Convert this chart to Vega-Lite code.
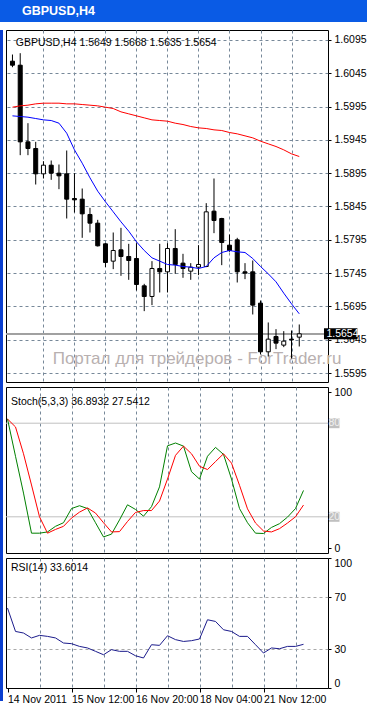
{
  "$schema": "https://vega.github.io/schema/vega-lite/v6.json",
  "padding": 0,
  "background": "white",
  "spacing": 7,
  "datasets": {
    "bars": [
      {"i":0,"o":1.6063,"h":1.6073,"l":1.6054,"c":1.6057,"ma1":1.5994,"ma2":1.5981,"k":82.7,"d":82.7,"rsi":61.5},
      {"i":1,"o":1.6057,"h":1.6075,"l":1.5922,"c":1.5942,"ma1":1.5996,"ma2":1.5980,"k":58.8,"d":77.6,"rsi":43.5},
      {"i":2,"o":1.5942,"h":1.5970,"l":1.5922,"c":1.5932,"ma1":1.5997,"ma2":1.5979,"k":35.2,"d":60.4,"rsi":42.3},
      {"i":3,"o":1.5932,"h":1.5942,"l":1.5878,"c":1.5894,"ma1":1.5999,"ma2":1.5977,"k":9.5,"d":40.4,"rsi":38.5},
      {"i":4,"o":1.5894,"h":1.5913,"l":1.5887,"c":1.5907,"ma1":1.6000,"ma2":1.5975,"k":9.5,"d":20,"rsi":40.5},
      {"i":5,"o":1.5907,"h":1.5914,"l":1.5885,"c":1.5895,"ma1":1.6000,"ma2":1.5974,"k":10.3,"d":9.5,"rsi":39.7},
      {"i":6,"o":1.5895,"h":1.5908,"l":1.5871,"c":1.5891,"ma1":1.6000,"ma2":1.5970,"k":13.9,"d":11.9,"rsi":38.5},
      {"i":7,"o":1.5894,"h":1.5929,"l":1.5827,"c":1.5856,"ma1":1.5999,"ma2":1.5955,"k":16.2,"d":13.9,"rsi":34.6},
      {"i":8,"o":1.5857,"h":1.5895,"l":1.5836,"c":1.5855,"ma1":1.5999,"ma2":1.5930,"k":25.3,"d":19.2,"rsi":34.1},
      {"i":9,"o":1.5856,"h":1.5872,"l":1.5798,"c":1.5834,"ma1":1.5998,"ma2":1.5910,"k":27.1,"d":23,"rsi":32},
      {"i":10,"o":1.5833,"h":1.5843,"l":1.5806,"c":1.5820,"ma1":1.5997,"ma2":1.5888,"k":25.3,"d":25.7,"rsi":30.8},
      {"i":11,"o":1.5820,"h":1.5825,"l":1.5785,"c":1.5786,"ma1":1.5996,"ma2":1.5868,"k":16.2,"d":22.4,"rsi":28.2},
      {"i":12,"o":1.5789,"h":1.5790,"l":1.5754,"c":1.5761,"ma1":1.5994,"ma2":1.5852,"k":7.1,"d":16.2,"rsi":25.6},
      {"i":13,"o":1.5763,"h":1.5806,"l":1.5751,"c":1.5779,"ma1":1.5992,"ma2":1.5837,"k":8.9,"d":10.3,"rsi":29.5},
      {"i":14,"o":1.5780,"h":1.5813,"l":1.5741,"c":1.5770,"ma1":1.5987,"ma2":1.5822,"k":18,"d":10.5,"rsi":28.2},
      {"i":15,"o":1.5770,"h":1.5789,"l":1.5735,"c":1.5764,"ma1":1.5984,"ma2":1.5808,"k":27.7,"d":17,"rsi":28.2},
      {"i":16,"o":1.5767,"h":1.5790,"l":1.5719,"c":1.5728,"ma1":1.5981,"ma2":1.5792,"k":24.7,"d":22.8,"rsi":24.8},
      {"i":17,"o":1.5726,"h":1.5729,"l":1.5688,"c":1.5710,"ma1":1.5978,"ma2":1.5779,"k":20.4,"d":24,"rsi":23.1},
      {"i":18,"o":1.5710,"h":1.5763,"l":1.5697,"c":1.5752,"ma1":1.5975,"ma2":1.5768,"k":26.5,"d":24,"rsi":33.3},
      {"i":19,"o":1.5752,"h":1.5789,"l":1.5716,"c":1.5747,"ma1":1.5974,"ma2":1.5763,"k":39.2,"d":30.1,"rsi":32.8},
      {"i":20,"o":1.5747,"h":1.5790,"l":1.5716,"c":1.5782,"ma1":1.5973,"ma2":1.5758,"k":65.5,"d":44.2,"rsi":40.2},
      {"i":21,"o":1.5782,"h":1.5811,"l":1.5744,"c":1.5758,"ma1":1.5970,"ma2":1.5757,"k":67.3,"d":59.4,"rsi":37.2},
      {"i":22,"o":1.5760,"h":1.5774,"l":1.5738,"c":1.5752,"ma1":1.5968,"ma2":1.5755,"k":65.3,"d":65.3,"rsi":35.8},
      {"i":23,"o":1.5748,"h":1.5760,"l":1.5735,"c":1.5754,"ma1":1.5965,"ma2":1.5754,"k":48.9,"d":60.4,"rsi":36.4},
      {"i":24,"o":1.5754,"h":1.5787,"l":1.5742,"c":1.5758,"ma1":1.5963,"ma2":1.5752,"k":44.2,"d":52.4,"rsi":37.7},
      {"i":25,"o":1.5755,"h":1.5850,"l":1.5754,"c":1.5837,"ma1":1.5962,"ma2":1.5755,"k":58.8,"d":50.3,"rsi":52.5},
      {"i":26,"o":1.5838,"h":1.5887,"l":1.5805,"c":1.5824,"ma1":1.5960,"ma2":1.5768,"k":64.5,"d":55.4,"rsi":51.2},
      {"i":27,"o":1.5827,"h":1.5828,"l":1.5757,"c":1.5791,"ma1":1.5959,"ma2":1.5776,"k":60,"d":60.4,"rsi":44.8},
      {"i":28,"o":1.5787,"h":1.5803,"l":1.5777,"c":1.5779,"ma1":1.5956,"ma2":1.5779,"k":44.2,"d":54.4,"rsi":43.5},
      {"i":29,"o":1.5795,"h":1.5798,"l":1.5731,"c":1.5747,"ma1":1.5954,"ma2":1.5777,"k":25.3,"d":40.2,"rsi":39.7},
      {"i":30,"o":1.5747,"h":1.5760,"l":1.5736,"c":1.5745,"ma1":1.5951,"ma2":1.5776,"k":16.2,"d":25.1,"rsi":39.7},
      {"i":31,"o":1.5747,"h":1.5764,"l":1.5683,"c":1.5697,"ma1":1.5948,"ma2":1.5767,"k":9.5,"d":16,"rsi":33.3},
      {"i":32,"o":1.5700,"h":1.5704,"l":1.5623,"c":1.5627,"ma1":1.5943,"ma2":1.5755,"k":9.3,"d":10.9,"rsi":26.9},
      {"i":33,"o":1.5627,"h":1.5671,"l":1.5620,"c":1.5646,"ma1":1.5939,"ma2":1.5744,"k":13.2,"d":10.3,"rsi":30.8},
      {"i":34,"o":1.5650,"h":1.5661,"l":1.5631,"c":1.5640,"ma1":1.5935,"ma2":1.5732,"k":15.6,"d":12.4,"rsi":30.2},
      {"i":35,"o":1.5637,"h":1.5658,"l":1.5634,"c":1.5643,"ma1":1.5930,"ma2":1.5715,"k":19.8,"d":16,"rsi":32},
      {"i":36,"o":1.5646,"h":1.5659,"l":1.5617,"c":1.5645,"ma1":1.5924,"ma2":1.5699,"k":25.3,"d":20,"rsi":32},
      {"i":37,"o":1.5649,"h":1.5668,"l":1.5635,"c":1.5654,"ma1":1.5920,"ma2":1.5684,"k":36.89,"d":27.54,"rsi":33.6}
    ]
  },
  "config": {
    "view": {"stroke": "black", "strokeWidth": 1},
    "axis": {
      "domain": false,
      "labelFont": "Liberation Sans Narrow, Liberation Sans",
      "labelFontSize": 10.5,
      "labelColor": "black",
      "tickColor": "black",
      "tickSize": 3,
      "tickCount": 50,
      "labelPadding": 3,
      "labelOverlap": false,
      "gridColor": "#778899",
      "gridDash": [3, 3],
      "gridOpacity": 1
    },
    "text": {"font": "Liberation Sans Narrow, Liberation Sans", "fontSize": 10.5, "color": "black"}
  },
  "vconcat": [
    {
      "width": 367,
      "height": 22,
      "view": {"fill": "#0A5BE5", "stroke": null},
      "title": {"text": "GBPUSD,H4", "orient": "bottom", "anchor": "start", "offset": -17, "dx": 22, "color": "white", "font": "Liberation Sans", "fontSize": 12.5, "fontWeight": "bold"},
      "data": {"values": [{}]},
      "mark": {"type": "text", "text": ""}
    },
    {
      "spacing": 2,
      "hconcat": [
        {
          "width": 3,
          "height": 671,
          "view": {"fill": "#0B3FD0", "stroke": null},
          "data": {"values": [{}]},
          "mark": {"type": "text", "text": ""}
        },
        {
          "spacing": 3,
          "vconcat": [
            {
              "width": 322,
              "height": 352,
              "data": {"name": "bars"},
              "layer": [
                {
                  "mark": {"type": "rule", "color": "#a0a0a0", "strokeWidth": 1},
                  "encoding": {"y": {"datum": 1.5654, "type": "quantitative", "title": null}}
                },
                {
                  "data": {"values": [{"t": "Портал для трейдеров - ForTrader.ru"}]},
                  "mark": {"type": "text", "align": "left", "baseline": "alphabetic", "font": "Liberation Sans", "fontSize": 17, "color": "#b8b0b0"},
                  "encoding": {
                    "x": {"datum": 5.19, "type": "quantitative", "title": null},
                    "y": {"datum": 1.56081, "type": "quantitative", "title": null},
                    "text": {"field": "t"}
                  }
                },
                {
                  "mark": {"type": "rule", "color": "black", "strokeWidth": 1},
                  "encoding": {
                    "x": {"field": "i", "type": "quantitative", "title": null,
                      "scale": {"domain": [-0.1875, 40.0625], "nice": false, "zero": false},
                      "axis": {"values": [4, 8, 12, 16, 20, 24, 28, 32, 36], "tickCount": 50, "labels": false, "ticks": false, "grid": true, "domain": false, "title": null}},
                    "y": {"field": "l", "type": "quantitative", "title": null,
                      "scale": {"domain": [1.55892, 1.61023], "nice": false, "zero": false},
                      "axis": {"orient": "right", "values": [1.5595, 1.5645, 1.5695, 1.5745, 1.5795, 1.5845, 1.5895, 1.5945, 1.5995, 1.6045, 1.6095], "tickCount": 50, "format": ".4f", "grid": true, "labelOverlap": false, "title": null}},
                    "y2": {"field": "h"}
                  }
                },
                {
                  "mark": {"type": "bar", "size": 4, "stroke": "black", "strokeWidth": 1},
                  "encoding": {
                    "x": {"field": "i", "type": "quantitative", "title": null},
                    "y": {"field": "o", "type": "quantitative", "title": null},
                    "y2": {"field": "c"},
                    "fill": {"condition": {"test": "datum.c > datum.o", "value": "white"}, "value": "black"}
                  }
                },
                {
                  "mark": {"type": "line", "color": "#ff0000", "strokeWidth": 1},
                  "encoding": {
                    "x": {"field": "i", "type": "quantitative", "title": null},
                    "y": {"field": "ma1", "type": "quantitative", "title": null}
                  }
                },
                {
                  "mark": {"type": "line", "color": "#0000ff", "strokeWidth": 1},
                  "encoding": {
                    "x": {"field": "i", "type": "quantitative", "title": null},
                    "y": {"field": "ma2", "type": "quantitative", "title": null}
                  }
                },
                {
                  "data": {"values": [{"t": "GBPUSD,H4 1.5649 1.5668 1.5635 1.5654"}]},
                  "mark": {"type": "text", "align": "left", "baseline": "alphabetic"},
                  "encoding": {
                    "x": {"datum": 0.44, "type": "quantitative", "title": null},
                    "y": {"datum": 1.60863, "type": "quantitative", "title": null},
                    "text": {"field": "t"}
                  }
                },
                {
                  "data": {"values": [{"p": 1.5654}]},
                  "mark": {"type": "bar", "size": 11, "color": "black"},
                  "encoding": {
                    "x": {"datum": 40.19, "type": "quantitative", "title": null},
                    "x2": {"datum": 44.5},
                    "y": {"field": "p", "type": "quantitative", "title": null}
                  }
                },
                {
                  "data": {"values": [{"p": 1.5654}]},
                  "mark": {"type": "text", "align": "left", "baseline": "middle", "color": "white"},
                  "encoding": {
                    "x": {"datum": 40.5, "type": "quantitative", "title": null},
                    "y": {"field": "p", "type": "quantitative", "title": null},
                    "text": {"field": "p", "type": "quantitative", "format": ".4f"}
                  }
                }
              ]
            },
            {
              "width": 322,
              "height": 166,
              "data": {"name": "bars"},
              "layer": [
                {
                  "data": {"values": [{"lvl": 80}, {"lvl": 20}]},
                  "mark": {"type": "rule", "color": "#c0c0c0", "strokeWidth": 1},
                  "encoding": {
                    "y": {"field": "lvl", "type": "quantitative", "title": null,
                      "scale": {"domain": [0, 100], "nice": false},
                      "axis": {"orient": "right", "values": [0, 100], "labelFlush": true, "grid": false, "title": null}}
                  }
                },
                {
                  "mark": {"type": "line", "color": "#008000", "strokeWidth": 1},
                  "encoding": {
                    "x": {"field": "i", "type": "quantitative", "title": null,
                      "scale": {"domain": [-0.1875, 40.0625], "nice": false, "zero": false},
                      "axis": {"values": [4, 8, 12, 16, 20, 24, 28, 32, 36], "tickCount": 50, "labels": false, "ticks": false, "grid": true, "domain": false, "title": null}},
                    "y": {"field": "k", "type": "quantitative", "title": null}
                  }
                },
                {
                  "mark": {"type": "line", "color": "#ff0000", "strokeWidth": 1},
                  "encoding": {
                    "x": {"field": "i", "type": "quantitative", "title": null},
                    "y": {"field": "d", "type": "quantitative", "title": null}
                  }
                },
                {
                  "data": {"values": [{"t": "Stoch(5,3,3) 36.8932 27.5412"}]},
                  "mark": {"type": "text", "align": "left", "baseline": "alphabetic"},
                  "encoding": {
                    "x": {"datum": 0.44, "type": "quantitative", "title": null},
                    "y": {"datum": 91.4, "type": "quantitative", "title": null},
                    "text": {"field": "t"}
                  }
                },
                {
                  "data": {"values": [{"lvl": 80}, {"lvl": 20}]},
                  "mark": {"type": "bar", "size": 10, "color": "#c0c0c0"},
                  "encoding": {
                    "x": {"datum": 40.19, "type": "quantitative", "title": null},
                    "x2": {"datum": 41.5},
                    "y": {"field": "lvl", "type": "quantitative", "title": null}
                  }
                },
                {
                  "data": {"values": [{"lvl": 80}, {"lvl": 20}]},
                  "mark": {"type": "text", "align": "center", "baseline": "middle", "color": "#f0f0f0"},
                  "encoding": {
                    "x": {"datum": 40.84, "type": "quantitative", "title": null},
                    "y": {"field": "lvl", "type": "quantitative", "title": null},
                    "text": {"field": "lvl", "type": "quantitative"}
                  }
                }
              ]
            },
            {
              "width": 322,
              "height": 130,
              "data": {"name": "bars"},
              "layer": [
                {
                  "mark": {"type": "line", "color": "#1c1c8c", "strokeWidth": 1},
                  "encoding": {
                    "x": {"field": "i", "type": "quantitative", "title": null,
                      "scale": {"domain": [-0.1875, 40.0625], "nice": false, "zero": false},
                      "axis": {
                        "values": [0, 4, 8, 12, 16, 20, 24, 28, 32, 36],
                        "tickCount": 50,
                        "grid": true,
                        "gridOpacity": {"condition": {"test": "datum.value === 0", "value": 0}, "value": 1},
                        "tickOpacity": {"condition": {"test": "datum.value % 8 === 0", "value": 1}, "value": 0},
                        "tickSize": 4,
                        "labelPadding": 2,
                        "labelAlign": "left",
                        "labelOverlap": false,
                        "labelBound": false,
                        "labelExpr": "datum.value === 0 ? '14 Nov 2011' : datum.value === 8 ? '15 Nov 12:00' : datum.value === 16 ? '16 Nov 20:00' : datum.value === 24 ? '18 Nov 04:00' : datum.value === 32 ? '21 Nov 12:00' : ''",
                        "title": null
                      }},
                    "y": {"field": "rsi", "type": "quantitative", "title": null,
                      "scale": {"domain": [0, 100], "nice": false},
                      "axis": {
                        "orient": "right",
                        "values": [0, 30, 70, 100],
                        "labelFlush": true,
                        "grid": true,
                        "gridColor": "#a9a9a9",
                        "gridOpacity": {"condition": {"test": "datum.value === 30 || datum.value === 70", "value": 1}, "value": 0},
                        "title": null
                      }}
                  }
                },
                {
                  "data": {"values": [{"t": "RSI(14) 33.6014"}]},
                  "mark": {"type": "text", "align": "left", "baseline": "alphabetic"},
                  "encoding": {
                    "x": {"datum": 0.44, "type": "quantitative", "title": null},
                    "y": {"datum": 90, "type": "quantitative", "title": null},
                    "text": {"field": "t"}
                  }
                }
              ]
            }
          ]
        }
      ]
    }
  ]
}
